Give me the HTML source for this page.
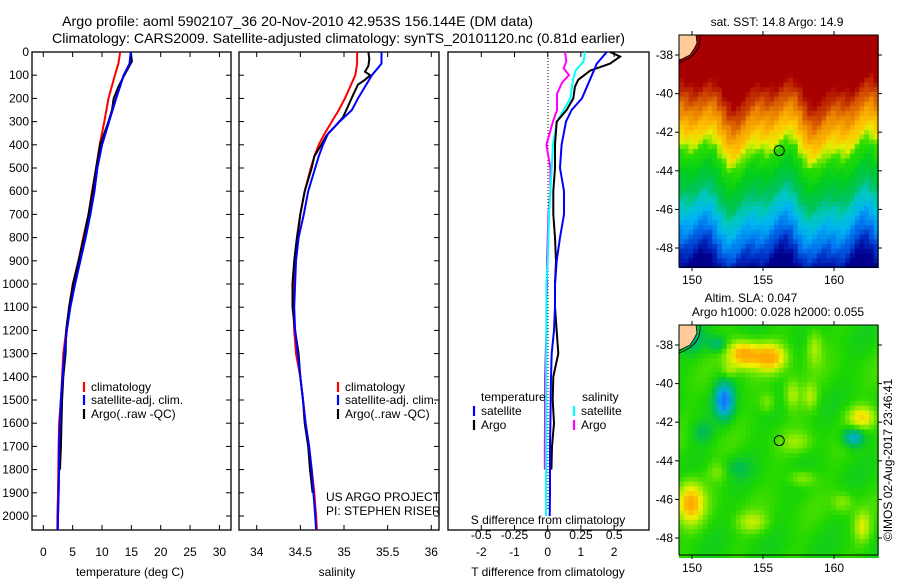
<!DOCTYPE html>
<html><head><meta charset="utf-8"><style>
html,body{margin:0;padding:0;background:#fff;}
svg{display:block;font-family:"Liberation Sans",Arial,sans-serif;}
</style></head><body>
<svg id="fig" width="900" height="580" viewBox="0 0 900 580" xmlns="http://www.w3.org/2000/svg">
<rect x="0" y="0" width="900" height="580" fill="#fff"/>
<text x="62" y="26" font-size="14" textLength="471" lengthAdjust="spacingAndGlyphs">Argo profile: aoml 5902107_36 20-Nov-2010 42.953S 156.144E (DM data)</text>
<text x="52" y="43" font-size="14" textLength="573" lengthAdjust="spacingAndGlyphs">Climatology: CARS2009. Satellite-adjusted climatology: synTS_20101120.nc (0.81d earlier)</text>
<g id="maps"></g>
<g id="plots"></g>
</svg>
<script>
// ---- data ----
const depthT = [0,50,100,200,300,400,500,600,700,800,900,1000,1100,1200,1300,1400,1500,1600,1700,1800,1900,2000,2060];
const tempClim = [13.1,12.8,12.2,11.1,10.4,9.6,9.0,8.3,7.7,6.8,6.0,5.0,4.4,3.9,3.4,3.2,3.0,2.7,2.6,2.56,2.5,2.4,2.4];
const tempSat  = [14.9,14.7,13.7,12.4,11.2,10.0,9.2,8.7,8.0,7.2,6.3,5.4,4.6,4.0,3.6,3.3,3.0,2.85,2.7,2.7,2.6,2.5,2.45];
const depthArgoT = [0,40,100,150,200,250,300,400,500,600,700,800,900,1000,1100,1200,1300,1400,1500,1600,1700,1800];
const tempArgo = [14.9,15.1,13.8,12.8,12.0,11.7,11.1,9.7,9.0,8.4,7.7,6.9,6.0,5.1,4.4,3.9,3.8,3.4,3.2,3.1,3.0,2.85];

const depthS = [0,50,100,150,200,250,300,350,400,450,500,600,700,800,900,1000,1100,1200,1300,1400,1500,1600,1700,1800,1900,2000,2060];
const salClim = [35.15,35.15,35.13,35.07,35.01,34.94,34.86,34.78,34.71,34.66,34.62,34.55,34.5,34.47,34.44,34.42,34.42,34.43,34.45,34.5,34.53,34.56,34.6,34.63,34.66,34.68,34.69];
const salSat  = [35.43,35.43,35.32,35.24,35.16,35.09,34.95,34.82,34.76,34.71,34.67,34.59,34.54,34.48,34.45,34.44,34.43,34.44,34.47,34.5,34.53,34.56,34.6,34.63,34.65,34.67,34.68];
const depthArgoS = [0,30,60,85,100,120,140,180,230,280,320,360,400,450,500,600,700,800,900,1000,1100,1200,1300,1400,1500,1600,1700,1800,1900];
const salArgo = [35.28,35.29,35.28,35.24,35.3,35.24,35.16,35.11,35.05,34.99,34.9,34.8,34.74,34.66,34.63,34.55,34.5,34.46,34.43,34.41,34.41,34.44,34.48,34.5,34.53,34.55,34.59,34.61,34.64];

const depthDT = [0,50,100,150,200,250,300,400,500,600,700,800,900,1000,1100,1200,1300,1400,1500,1600,1700,1800,1900,2000];
const dTsat = [1.78,1.48,1.33,1.18,1.03,0.72,0.55,0.42,0.37,0.49,0.49,0.37,0.27,0.22,0.22,0.19,0.12,0.1,0.09,0.08,0.07,0.07,0.07,0.06];
const depthDTA = [0,20,50,80,120,150,200,250,300,400,500,600,700,800,900,1000,1100,1300,1400,1500,1600,1700,1800];
const dTargo = [1.88,2.18,1.88,1.28,0.92,0.82,0.77,0.57,0.27,0.22,0.22,0.17,0.17,0.22,0.25,0.22,0.22,0.32,0.17,0.15,0.19,0.13,0.11];
const depthDS = [0,40,80,120,200,250,300,400,500,600,700,800,900,1000,1200,1400,1600,1800,2000];
const dSsat = [0.28,0.27,0.21,0.19,0.17,0.12,0.07,0.04,0.03,0.02,0.01,0.005,0,-0.01,-0.01,-0.012,-0.012,-0.012,-0.012];
const depthDSA = [0,40,70,100,130,180,250,300,400,500,600,700,800,900,1000,1100,1200,1300,1400,1500,1600,1700,1800];
const dSargo = [0.13,0.14,0.12,0.16,0.11,0.07,0.07,0.04,-0.01,0.02,0.02,0.005,0,-0.005,-0.005,-0.01,-0.01,-0.015,-0.02,-0.02,-0.02,-0.022,-0.022];

const depthTicks = [0,100,200,300,400,500,600,700,800,900,1000,1100,1200,1300,1400,1500,1600,1700,1800,1900,2000];
const tempTicks = [0,5,10,15,20,25,30];
const salTicks = [34,34.5,35,35.5,36];
const dTTicks = [-2,-1,0,1,2];
const dSTicks = ["-0.5","-0.25","0","0.25","0.5"];
const lonTicks = [150,155,160];
const latTicks = [-38,-40,-42,-44,-46,-48];

// ---- helpers ----
const NS = "http://www.w3.org/2000/svg";
function mk(tag, attrs, parent, txt){
  const e = document.createElementNS(NS, tag);
  for (const k in attrs) e.setAttribute(k, attrs[k]);
  if (txt !== undefined) e.textContent = txt;
  parent.appendChild(e); return e;
}
const plots = document.getElementById('plots');
const maps = document.getElementById('maps');
const yTop = 52, yBot = 530;
const yD = d => yTop + d * 0.232;

function line(xs, ds, xf, color, name, parent){
  let p = '';
  for (let i=0;i<xs.length;i++) p += (i?'L':'M') + xf(xs[i]).toFixed(1) + ',' + yD(ds[i]).toFixed(1);
  const el = mk('path', {d:p, fill:'none', stroke:color, 'stroke-width':2}, parent);
  
  
}
function frame(x0, x1, name){
  const el = mk('rect', {x:x0, y:yTop, width:x1-x0, height:yBot-yTop, fill:'none', stroke:'#000', 'stroke-width':1.3}, plots);
  
  
}
function xTicks(vals, xf, labels, yLab, name){
  const g = mk('g', {}, plots);
  
  
  vals.forEach((v,i)=>{
    const x = xf(v);
    mk('line', {x1:x, x2:x, y1:yBot, y2:yBot-5, stroke:'#000'}, g);
    mk('line', {x1:x, x2:x, y1:yTop, y2:yTop+5, stroke:'#000'}, g);
    if (labels) mk('text', {x:x, y:yLab, 'font-size':12, 'text-anchor':'middle'}, g, labels[i]);
  });
}
function yTicks(x0, x1, name, withLabels){
  const g = mk('g', {}, plots);
  
  
  depthTicks.forEach(d=>{
    const y = yD(d);
    mk('line', {x1:x0, x2:x0+5, y1:y, y2:y, stroke:'#000'}, g);
    mk('line', {x1:x1, x2:x1-5, y1:y, y2:y, stroke:'#000'}, g);
    if (withLabels) mk('text', {x:29, y:y+4, 'font-size':12, 'text-anchor':'end'}, g, String(d));
  });
}
function legendEntry(xb, y, color, label, name){
  const g = mk('g', {}, plots);
  
  
  mk('line', {x1:xb, x2:xb, y1:y-5, y2:y+5, stroke:color, 'stroke-width':2.2}, g);
  mk('text', {x:xb+7, y:y+4, 'font-size':12}, g, label);
}

// ---- temperature panel ----
const xT = t => 43.3 + 5.87 * t;
frame(32, 231, 'temperature-plot-frame');
yTicks(32, 231, 'depth-axis', true);
xTicks(tempTicks, xT, tempTicks.map(String), 556, 'temperature-x-axis');
mk('text', {x:130, y:576, 'font-size':12, 'text-anchor':'middle',  }, plots, 'temperature (deg C)');
line(tempClim, depthT, xT, '#ff0000', 'temp-climatology-line', plots);
line(tempSat, depthT, xT, '#0000ff', 'temp-satellite-line', plots);
line(tempArgo, depthArgoT, xT, '#000000', 'temp-argo-line', plots);
line(tempSat, depthT, xT, '#0000ff', 'temp-satellite-line-top', plots);
legendEntry(84, 387, '#ff0000', 'climatology', 'temp-legend-climatology');
legendEntry(84, 400, '#0000ff', 'satellite-adj. clim.', 'temp-legend-satellite');
legendEntry(84, 414, '#000000', 'Argo(..raw -QC)', 'temp-legend-argo');

// ---- salinity panel ----
const xS = s => 256.7 + 87.3 * (s - 34);
frame(239, 439, 'salinity-plot-frame');
yTicks(239, 439, 'salinity-depth-ticks', false);
xTicks(salTicks, xS, salTicks.map(String), 556, 'salinity-x-axis');
mk('text', {x:337, y:576, 'font-size':12, 'text-anchor':'middle',  }, plots, 'salinity');
line(salClim, depthS, xS, '#ff0000', 'sal-climatology-line', plots);
line(salArgo, depthArgoS, xS, '#000000', 'sal-argo-line', plots);
line(salSat, depthS, xS, '#0000ff', 'sal-satellite-line', plots);
legendEntry(338, 387, '#ff0000', 'climatology', 'sal-legend-climatology');
legendEntry(338, 400, '#0000ff', 'satellite-adj. clim.', 'sal-legend-satellite');
legendEntry(338, 414, '#000000', 'Argo(..raw -QC)', 'sal-legend-argo');
mk('text', {x:326, y:501, 'font-size':12,  }, plots, 'US ARGO PROJECT');
mk('text', {x:326, y:515, 'font-size':12,  }, plots, 'PI: STEPHEN RISER');

// ---- difference panel ----
const xDT = v => 547.7 + 33.2 * v;
const xDS = v => 547.7 + 133 * v;
frame(448, 649, 'difference-plot-frame');
xTicks(dTTicks, xDT, dTTicks.map(String), 556, 'temp-diff-x-axis');
mk('text', {x:548, y:576, 'font-size':12, 'text-anchor':'middle',  }, plots, 'T difference from climatology');
mk('text', {x:548, y:524, 'font-size':12, 'text-anchor':'middle',  }, plots, 'S difference from climatology');
dSTicks.forEach(s=>{
  const t = mk('text', {x:xDS(parseFloat(s)), y:539, 'font-size':12, 'text-anchor':'middle'}, plots, s);
  
  
});
mk('line', {x1:548, x2:548, y1:yTop, y2:yBot-20, stroke:'#000', 'stroke-dasharray':'1,2',  }, plots);
line(dSargo, depthDSA, xDS, '#ff00ff', 'sal-diff-argo-line', plots);
line(dSsat, depthDS, xDS, '#00ffff', 'sal-diff-satellite-line', plots);
line(dTargo, depthDTA, xDT, '#000000', 'temp-diff-argo-line', plots);
line(dTsat, depthDT, xDT, '#0000ff', 'temp-diff-satellite-line', plots);
mk('text', {x:481, y:401, 'font-size':12,  }, plots, 'temperature');
mk('text', {x:582, y:401, 'font-size':12,  }, plots, 'salinity');
legendEntry(474, 411, '#0000ff', 'satellite', 'diff-legend-temp-satellite');
legendEntry(474, 425, '#000000', 'Argo', 'diff-legend-temp-argo');
legendEntry(574, 411, '#00ffff', 'satellite', 'diff-legend-sal-satellite');
legendEntry(574, 425, '#ff00ff', 'Argo', 'diff-legend-sal-argo');

// ---- maps ----
const mx0 = 679, mx1 = 878;
const lonX = l => 692 + 14.2 * (l - 150);
function lerpCol(stops, v){
  if (v <= stops[0][0]) return stops[0][1];
  for (let i=1;i<stops.length;i++){
    if (v <= stops[i][0]){
      const a = stops[i-1], b = stops[i], f = (v-a[0])/(b[0]-a[0]);
      const c = [0,1,2].map(k=>Math.round(a[1][k] + (b[1][k]-a[1][k])*f));
      return 'rgb('+c.join(',')+')';
    }
  }
  return stops[stops.length-1][1];
}
function toRgb(c){ return Array.isArray(c)?'rgb('+c.join(',')+')':c; }
const sstStops = [[0,[168,0,0]],[0.22,[168,0,0]],[0.28,[200,60,0]],[0.34,[235,130,0]],[0.42,[255,195,0]],[0.47,[225,240,0]],[0.52,[40,220,0]],[0.6,[0,205,30]],[0.68,[0,195,90]],[0.74,[0,200,190]],[0.8,[0,180,240]],[0.87,[0,120,240]],[0.93,[0,50,200]],[1,[0,0,140]]];
const slaStops = [[-0.6,[20,120,255]],[-0.4,[0,175,210]],[-0.15,[0,190,80]],[0,[30,215,0]],[0.15,[140,235,0]],[0.3,[240,240,0]],[0.5,[255,170,0]]];

function drawMap(y0, y1, latTop, kind, name){
  const g = mk('g', {}, maps);
  
  
  const latY = lat => latTop + 19.3 * (-38 - lat);
  const cs = 4.75;
  for (let y=y0; y<y1; y+=cs){
    for (let x=mx0; x<mx1; x+=cs){
      let col;
      if (kind === 'sst'){
        const fy = (y - y0)/(y1-y0);
        let v = fy + 0.045*Math.sin((x-mx0)*0.075+0.5) + 0.03*Math.sin((x-mx0)*0.16+2.0+fy*2) + 0.012*Math.sin(x*0.4+y*0.25);
        col = lerpCol(sstStops, v);
      } else {
        const blobs = [[741,352,16,13,0.55],[768,355,15,13,0.5],[722,398,9,17,-0.6],[851,435,10,9,-0.45],[860,415,14,11,0.35],[688,500,13,20,0.5],[812,345,8,18,0.2],[727,368,7,7,0.15],[790,392,8,15,0.22],[808,394,7,13,0.2],[765,400,8,10,0.15],[795,440,15,10,0.14],[800,476,13,8,0.18],[750,520,15,10,0.2],[840,500,10,10,0.15],[700,430,11,11,-0.15],[735,465,13,10,-0.12],[860,525,8,15,0.25],[690,337,13,13,-0.2],[715,342,9,8,-0.25],[715,470,10,10,0.12]];
        let v = 0.03*Math.sin(x*0.11+y*0.05) + 0.02*Math.sin(y*0.09);
        blobs.forEach(b=>{ const dx=(x-b[0])/b[2], dy=(y-b[1])/b[3]; v += b[4]*Math.exp(-(dx*dx+dy*dy)); });
        col = lerpCol(slaStops, v);
      }
      mk('rect', {x:x.toFixed(2), y:y.toFixed(2), width:cs+0.3, height:cs+0.3, fill:toRgb(col)}, g);
    }
  }
  mk('path', {d:`M${mx0},${y0} L696,${y0} L697,${y0+8} L694,${y0+14} L690,${y0+20} L682,${y0+24} L${mx0},${y0+24} Z`, fill:'#ffcc99', stroke:'none'}, g);
  mk('path', {d:`M696,${y0} L697,${y0+8} L694,${y0+14} L690,${y0+20} L682,${y0+24} L${mx0},${y0+26}`, fill:'none', stroke:'#000', 'stroke-width':0.8}, g);
  mk('path', {d:`M700,${y0} Q702,${y0+20} ${mx0},${y0+28}`, fill:'none', stroke:'#000', 'stroke-width':0.8}, g);
  mk('rect', {x:mx0, y:y0, width:mx1-mx0, height:y1-y0, fill:'none', stroke:'#000', 'stroke-width':1}, g);
  mk('circle', {cx:lonX(156.144), cy:latY(-42.953), r:5, fill:'none', stroke:'#000', 'stroke-width':1}, g);
  lonTicks.forEach(l=>{
    const x = lonX(l);
    mk('line', {x1:x, x2:x, y1:y0, y2:y0-4, stroke:'#000'}, g);
    mk('line', {x1:x, x2:x, y1:y1, y2:y1+4, stroke:'#000'}, g);
    mk('text', {x:x, y:y1+17, 'font-size':12, 'text-anchor':'middle'}, g, String(l));
  });
  latTicks.forEach(l=>{
    const y = latY(l);
    mk('line', {x1:mx0, x2:mx0-4, y1:y, y2:y, stroke:'#000'}, g);
    mk('line', {x1:mx1, x2:mx1+4, y1:y, y2:y, stroke:'#000'}, g);
    mk('text', {x:673, y:y+4, 'font-size':12, 'text-anchor':'end'}, g, String(l));
  });
}
drawMap(35, 267, 55, 'sst', 'sst-map');
drawMap(325, 555, 345, 'sla', 'sla-map');
mk('text', {x:777, y:26, 'font-size':12, 'text-anchor':'middle',  }, maps, 'sat. SST: 14.8 Argo: 14.9');
mk('text', {x:751, y:302, 'font-size':12, 'text-anchor':'middle',  }, maps, 'Altim. SLA: 0.047');
mk('text', {x:778, y:316, 'font-size':12, 'text-anchor':'middle',  }, maps, 'Argo h1000: 0.028 h2000: 0.055');
mk('text', {x:0, y:0, 'font-size':12, 'text-anchor':'middle', transform:'translate(892,460) rotate(-90)',  }, maps, '©IMOS 02-Aug-2017 23:46:41');
</script>
</body></html>
